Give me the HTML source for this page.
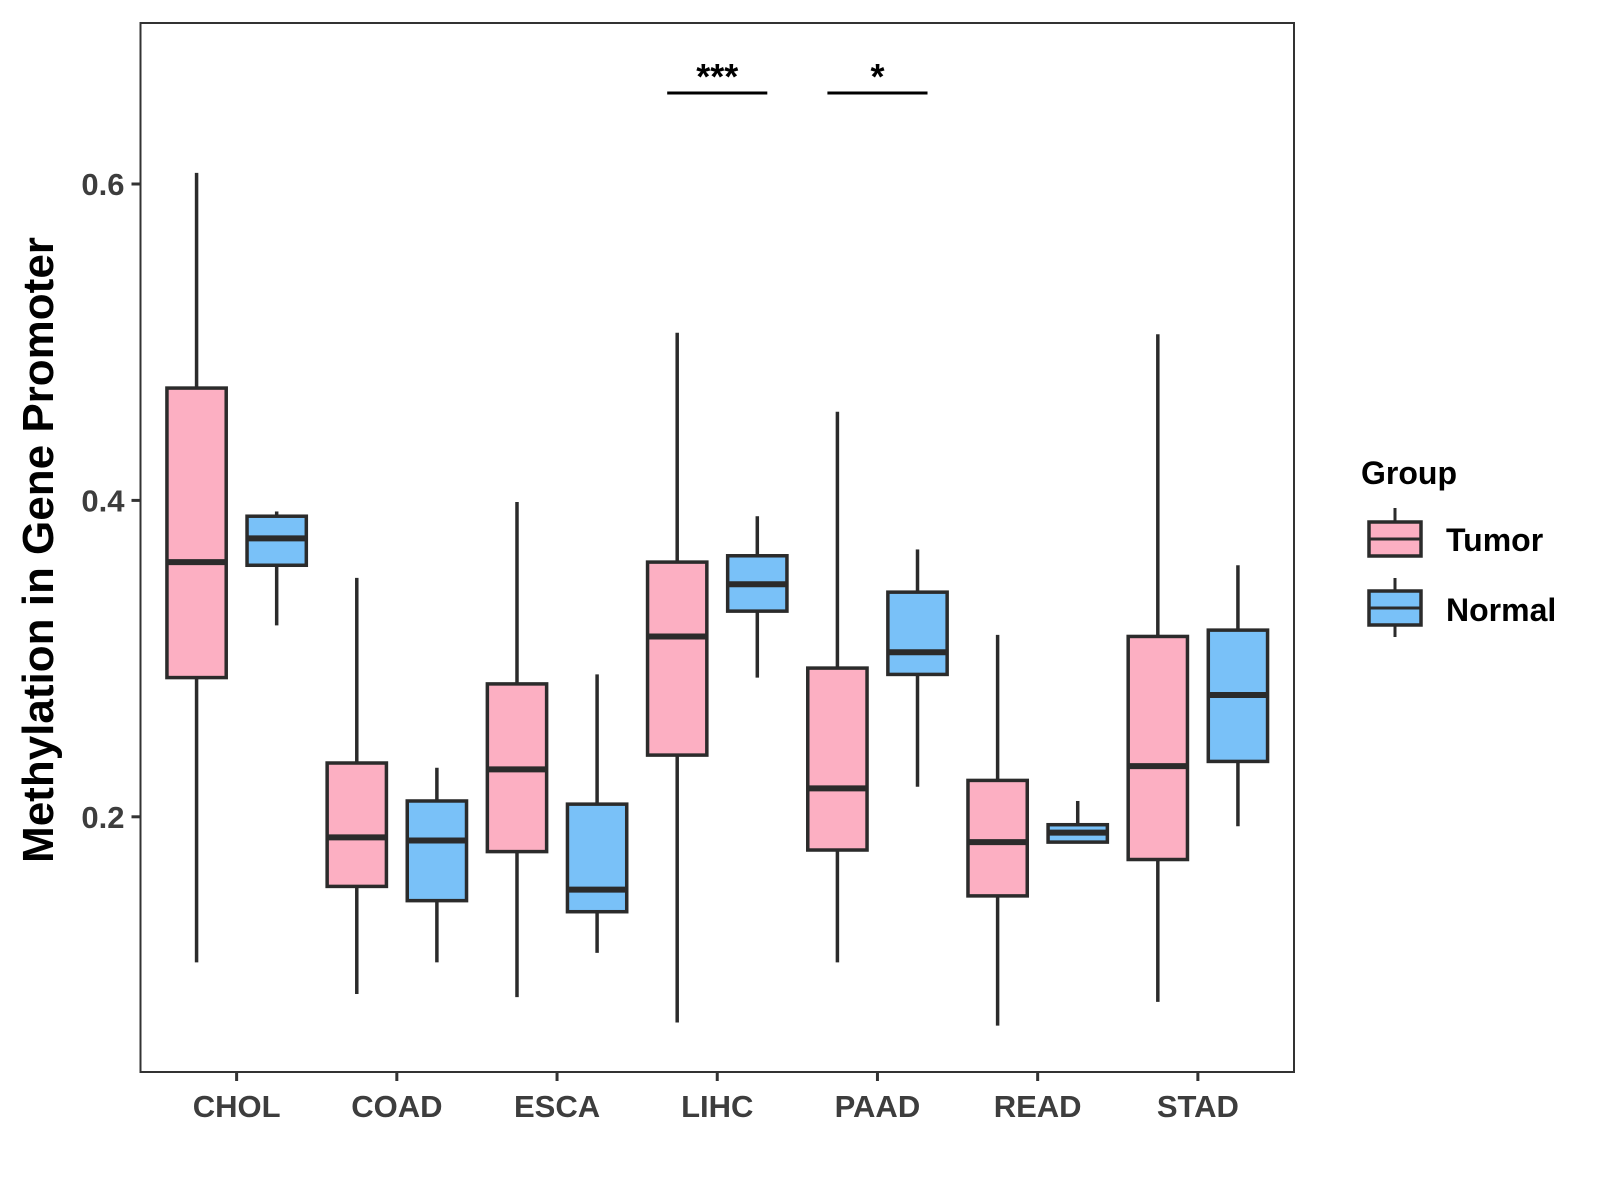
<!DOCTYPE html>
<html><head><meta charset="utf-8"><style>
html,body{margin:0;padding:0;background:#fff}
svg{display:block;font-family:"Liberation Sans",Arial,sans-serif}
</style></head><body>
<svg id="chart" width="1600" height="1200" viewBox="0 0 1600 1200" xmlns="http://www.w3.org/2000/svg">
<rect x="0" y="0" width="1600" height="1200" fill="#fff"/>
<g id="marks"></g>
<rect x="140.5" y="23" width="1153.5" height="1049" fill="none" stroke="#333" stroke-width="2"/>
<g id="axes"></g>
<text transform="translate(53,550) rotate(-90)" text-anchor="middle" font-size="44" font-weight="bold" fill="#000">Methylation in Gene Promoter</text>
<g>
<text x="1361" y="484" font-size="32" font-weight="bold" fill="#000">Group</text>
<g>
<line x1="1395" y1="508" x2="1395" y2="550" stroke="#2b2b2b" stroke-width="3"/>
<rect x="1369" y="522" width="52" height="34" fill="#FCAFC2" stroke="#2b2b2b" stroke-width="3.5"/>
<line x1="1369" y1="539" x2="1421" y2="539" stroke="#2b2b2b" stroke-width="3"/>
<text x="1446" y="551" font-size="32" font-weight="bold" fill="#000">Tumor</text>
</g>
<g>
<line x1="1395" y1="578" x2="1395" y2="637" stroke="#2b2b2b" stroke-width="3"/>
<rect x="1369" y="591" width="52" height="34" fill="#79C1F8" stroke="#2b2b2b" stroke-width="3.5"/>
<line x1="1369" y1="608" x2="1421" y2="608" stroke="#2b2b2b" stroke-width="3"/>
<text x="1446" y="621" font-size="32" font-weight="bold" fill="#000">Normal</text>
</g>
</g>
</svg>
<script>
const categories = ["CHOL","COAD","ESCA","LIHC","PAAD","READ","STAD"];
const tumorLow = [0.108,0.088,0.086,0.070,0.108,0.068,0.083];
const tumorQ1 = [0.288,0.156,0.178,0.239,0.179,0.150,0.173];
const tumorMed = [0.361,0.187,0.230,0.314,0.218,0.184,0.232];
const tumorQ3 = [0.471,0.234,0.284,0.361,0.294,0.223,0.314];
const tumorHigh = [0.607,0.351,0.399,0.506,0.456,0.315,0.505];
const normalLow = [0.321,0.108,0.114,0.288,0.219,0.184,0.194];
const normalQ1 = [0.359,0.147,0.140,0.330,0.290,0.184,0.235];
const normalMed = [0.376,0.185,0.154,0.347,0.304,0.190,0.277];
const normalQ3 = [0.390,0.210,0.208,0.365,0.342,0.195,0.318];
const normalHigh = [0.393,0.231,0.290,0.390,0.369,0.210,0.359];
const yTicks = [0.2,0.4,0.6];
const sigCategories = ["LIHC","PAAD"];
const sigLabels = ["***","*"];

const NS="http://www.w3.org/2000/svg";
const L=140.5,R=1294,T=23,B=1072;
const step=(R-L)/(categories.length+0.2);
function xScale(i){return L+(i+0.6)*step;}
function yScale(v){return 184+(0.6-v)/0.2*316.4;}
function mk(tag,attrs,parent){const e=document.createElementNS(NS,tag);for(const k in attrs)e.setAttribute(k,attrs[k]);parent.appendChild(e);return e;}
const marks=document.getElementById('marks'),axes=document.getElementById('axes');
const bw=step*0.37,off=step*0.25;
function drawBox(cx,lo,q1,md,q3,hi,fill,name){
  const g=mk('g',{},marks);
  
  
  mk('line',{x1:cx,x2:cx,y1:yScale(hi),y2:yScale(q3),stroke:'#2b2b2b','stroke-width':3.5},g);
  mk('line',{x1:cx,x2:cx,y1:yScale(q1),y2:yScale(lo),stroke:'#2b2b2b','stroke-width':3.5},g);
  mk('rect',{x:cx-bw/2,y:yScale(q3),width:bw,height:yScale(q1)-yScale(q3),fill:fill,stroke:'#2b2b2b','stroke-width':3.5},g);
  mk('line',{x1:cx-bw/2,x2:cx+bw/2,y1:yScale(md),y2:yScale(md),stroke:'#2b2b2b','stroke-width':6},g);
}
categories.forEach((c,i)=>{
  const cx=xScale(i);
  drawBox(cx-off,tumorLow[i],tumorQ1[i],tumorMed[i],tumorQ3[i],tumorHigh[i],'#FCAFC2','box-tumor-'+c.toLowerCase());
  drawBox(cx+off,normalLow[i],normalQ1[i],normalMed[i],normalQ3[i],normalHigh[i],'#79C1F8','box-normal-'+c.toLowerCase());
  mk('line',{x1:cx,x2:cx,y1:B,y2:B+9,stroke:'#333','stroke-width':3},axes);
  const t=mk('text',{x:cx,y:B+45,'text-anchor':'middle','font-size':31,'font-weight':'bold',fill:'#3d3d3d'},axes);
  
  
  t.textContent=c;
});
yTicks.forEach(v=>{
  const y=yScale(v);
  mk('line',{x1:L-9,x2:L,y1:y,y2:y,stroke:'#333','stroke-width':3},axes);
  const t=mk('text',{x:L-16,y:y+11,'text-anchor':'end','font-size':31,'font-weight':'bold',fill:'#3d3d3d'},axes);
  
  
  t.textContent=v.toFixed(1);
});
sigCategories.forEach((c,k)=>{
  const i=categories.indexOf(c),cx=xScale(i);
  const g=mk('g',{},marks);
  
  
  mk('line',{x1:cx-off-10,x2:cx+off+10,y1:93,y2:93,stroke:'#000','stroke-width':3},g);
  const t=mk('text',{x:cx,y:89,'text-anchor':'middle','font-size':36,'font-weight':'bold',fill:'#000'},g);
  t.textContent=sigLabels[k];
});
</script>
</body></html>
